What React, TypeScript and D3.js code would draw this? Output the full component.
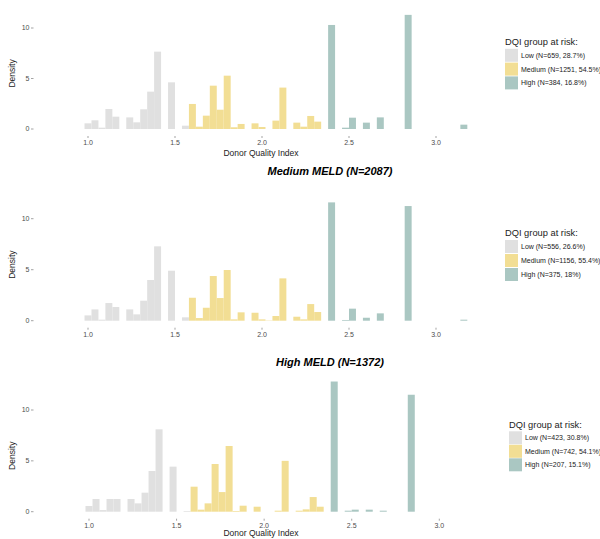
import React from "react";
import * as d3 from "d3";

const BIN_WIDTH = 0.04;
const X_TICKS = [1.0, 1.5, 2.0, 2.5, 3.0];
const Y_TICKS = [0, 5, 10];
const GROUPS = ["Low", "Medium", "High"];
const COLORS = ["#e0e0e0", "#f2de94", "#aac7c2"];

// Panel 1 (top)
const p1LowBins = [0.98, 1.02, 1.06, 1.10, 1.14, 1.22, 1.26, 1.30, 1.34, 1.38, 1.46, 1.54];
const p1LowVals = [0.56, 0.86, 0.13, 1.98, 1.22, 1.15, 0.66, 1.95, 3.7, 7.66, 4.62, 0.33];
const p1MedBins = [1.58, 1.62, 1.66, 1.70, 1.74, 1.78, 1.82, 1.86, 1.94, 1.98, 2.06, 2.10, 2.18, 2.22, 2.26, 2.30];
const p1MedVals = [2.48, 0.23, 1.32, 4.29, 1.91, 5.28, 0.17, 0.5, 0.56, 0.2, 0.83, 4.1, 0.63, 0.23, 1.29, 0.73];
const p1HighBins = [2.38, 2.46, 2.50, 2.58, 2.66, 2.82, 3.14];
const p1HighVals = [10.3, 0.13, 1.12, 0.63, 1.15, 11.3, 0.43];
const p1Legend = ["Low (N=659, 28.7%)", "Medium (N=1251, 54.5%)", "High (N=384, 16.8%)"];

// Panel 2 (Medium MELD)
const p2LowBins = [0.98, 1.02, 1.06, 1.10, 1.14, 1.22, 1.26, 1.30, 1.34, 1.38, 1.46, 1.54];
const p2LowVals = [0.52, 1.11, 0.1, 1.73, 1.34, 1.11, 0.62, 1.96, 3.99, 7.29, 4.9, 0.33];
const p2MedBins = [1.58, 1.62, 1.66, 1.70, 1.74, 1.78, 1.82, 1.86, 1.94, 1.98, 2.02, 2.06, 2.10, 2.18, 2.22, 2.26, 2.30];
const p2MedVals = [2.25, 0.26, 1.27, 4.38, 2.22, 4.97, 0.13, 0.82, 0.78, 0.13, 0.03, 0.46, 4.15, 0.39, 0.13, 1.63, 0.85];
const p2HighBins = [2.38, 2.46, 2.50, 2.58, 2.66, 2.82, 3.14];
const p2HighVals = [11.6, 0.07, 1.18, 0.29, 0.72, 11.24, 0.1];
const p2Legend = ["Low (N=556, 26.6%)", "Medium (N=1156, 55.4%)", "High (N=375, 18%)"];

// Panel 3 (High MELD)
const p3LowBins = [0.98, 1.02, 1.06, 1.10, 1.14, 1.22, 1.26, 1.30, 1.34, 1.38, 1.46, 1.54];
const p3LowVals = [0.56, 1.25, 0.16, 1.25, 1.25, 1.25, 0.82, 1.87, 4.0, 8.1, 4.43, 0.07];
const p3MedBins = [1.58, 1.62, 1.66, 1.70, 1.74, 1.78, 1.82, 1.86, 1.94, 2.06, 2.10, 2.18, 2.22, 2.26, 2.30];
const p3MedVals = [2.46, 0.2, 0.82, 4.69, 1.93, 6.46, 0.07, 0.59, 0.49, 0.1, 5.0, 0.1, 0.23, 1.44, 0.49];
const p3HighBins = [2.38, 2.46, 2.50, 2.58, 2.66, 2.82];
const p3HighVals = [12.8, 0.1, 0.2, 0.2, 0.1, 11.5];
const p3Legend = ["Low (N=423, 30.8%)", "Medium (N=742, 54.1%)", "High (N=207, 15.1%)"];

const FONT = "'Liberation Sans', Arial, Helvetica, sans-serif";

type Panel = {
  title: string | null;
  titleY: number;
  x1: number; // pixel of 1.0
  x3: number; // pixel of 3.0
  y0: number; // pixel of density 0
  pxPerUnit: number;
  xTitleY: number | null;
  groups: { bins: number[]; vals: number[] }[];
  legend: string[];
  legX: number;
  legTitleY: number;
  legStep: number;
};

const panels: Panel[] = [
  {
    title: null, titleY: 0, x1: 88, x3: 436, y0: 129, pxPerUnit: 10.1, xTitleY: 153,
    groups: [
      { bins: p1LowBins, vals: p1LowVals },
      { bins: p1MedBins, vals: p1MedVals },
      { bins: p1HighBins, vals: p1HighVals },
    ],
    legend: p1Legend, legX: 505, legTitleY: 41.5, legStep: 13.8,
  },
  {
    title: "Medium MELD (N=2087)", titleY: 175, x1: 88, x3: 436, y0: 320.7, pxPerUnit: 10.2, xTitleY: null,
    groups: [
      { bins: p2LowBins, vals: p2LowVals },
      { bins: p2MedBins, vals: p2MedVals },
      { bins: p2HighBins, vals: p2HighVals },
    ],
    legend: p2Legend, legX: 505, legTitleY: 232.5, legStep: 14,
  },
  {
    title: "High MELD (N=1372)", titleY: 366, x1: 89, x3: 439.3, y0: 511.7, pxPerUnit: 10.17, xTitleY: 533.5,
    groups: [
      { bins: p3LowBins, vals: p3LowVals },
      { bins: p3MedBins, vals: p3MedVals },
      { bins: p3HighBins, vals: p3HighVals },
    ],
    legend: p3Legend, legX: 509, legTitleY: 424.3, legStep: 13.5,
  },
];

function PanelView({ p }: { p: Panel }) {
  const x = d3.scaleLinear().domain([1, 3]).range([p.x1, p.x3]);
  const y = d3.scaleLinear().domain([0, 10]).range([p.y0, p.y0 - 10 * p.pxPerUnit]);
  const axisY = p.y0 + 6;
  const midY = y(5.5);
  return (
    <g>
      {p.title && (
        <text x={330} y={p.titleY} textAnchor="middle" fontSize={11} fontWeight="bold"
          fontStyle="italic" fill="#000" fontFamily={FONT}>{p.title}</text>
      )}
      {p.groups.map((g, gi) =>
        g.bins.map((b, i) => (
          <rect key={`${gi}-${i}`} x={x(b)} width={x(b + BIN_WIDTH) - x(b)}
            y={y(g.vals[i])} height={y(0) - y(g.vals[i])} fill={COLORS[gi]} />
        ))
      )}
      {Y_TICKS.map((t) => (
        <g key={t}>
          <text x={29.5} y={y(t)} dy="0.35em" textAnchor="end" fontSize={7} fill="#4d4d4d"
            fontFamily={FONT}>{t}</text>
          <line x1={31} x2={33.5} y1={y(t)} y2={y(t)} stroke="#666" strokeWidth={0.6} />
        </g>
      ))}
      {X_TICKS.map((t) => (
        <g key={t}>
          <line x1={x(t)} x2={x(t)} y1={axisY + 1} y2={axisY + 3} stroke="#666" strokeWidth={0.6} />
          <text x={x(t)} y={axisY + 8} dy="0.35em" textAnchor="middle" fontSize={7} fill="#4d4d4d"
            fontFamily={FONT}>{d3.format(".1f")(t)}</text>
        </g>
      ))}
      <text transform={`translate(12,${midY}) rotate(-90)`} textAnchor="middle" dy="0.35em"
        fontSize={8.5} fill="#222" fontFamily={FONT}>Density</text>
      {p.xTitleY !== null && (
        <text x={261} y={p.xTitleY} dy="0.35em" textAnchor="middle" fontSize={8.5} fill="#222"
          fontFamily={FONT}>Donor Quality Index</text>
      )}
      <text x={p.legX} y={p.legTitleY} dy="0.35em" fontSize={9.3} fill="#222" fontFamily={FONT}>
        DQI group at risk:
      </text>
      {GROUPS.map((gname, i) => {
        const cy = p.legTitleY + p.legStep * (i + 1);
        return (
          <g key={gname}>
            <rect x={p.legX} y={cy - 6.5} width={13} height={13} fill={COLORS[i]} />
            <text x={p.legX + 16} y={cy} dy="0.35em" fontSize={7} fill="#222" fontFamily={FONT}>
              {p.legend[i]}
            </text>
          </g>
        );
      })}
    </g>
  );
}

export default function App() {
  return (
    <svg width={600} height={539} style={{ position: "absolute", left: 0, top: 0, background: "#fff" }}>
      <rect x={0} y={0} width={600} height={539} fill="#fff" />
      {panels.map((p, i) => (
        <PanelView key={i} p={p} />
      ))}
    </svg>
  );
}
